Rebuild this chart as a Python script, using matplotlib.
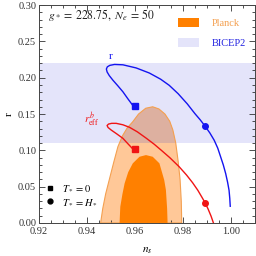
import matplotlib
matplotlib.use("Agg")
import matplotlib.pyplot as plt
from matplotlib.patches import Polygon, Rectangle, Patch
from matplotlib.lines import Line2D
from matplotlib.ticker import MultipleLocator

plt.rcParams['font.family'] = ['Liberation Serif', 'DejaVu Serif']
plt.rcParams['mathtext.fontset'] = 'stix'

# ---- data ----
bicep_r_range = [0.11, 0.22]

planck95_ns = [0.9457, 0.9466, 0.9478, 0.9495, 0.9512, 0.9529, 0.9548, 0.9568, 0.9590,
               0.9615, 0.9645, 0.9674, 0.9700, 0.9725, 0.9745, 0.9758, 0.9770, 0.9780,
               0.9788, 0.9793, 0.9795]
planck95_r = [0.0, 0.020, 0.040, 0.062, 0.084, 0.105, 0.120, 0.131, 0.139,
              0.150, 0.158, 0.160, 0.157, 0.150, 0.140, 0.128, 0.110, 0.085,
              0.060, 0.030, 0.0]

planck68_ns = [0.9536, 0.9539, 0.9548, 0.9557, 0.9572, 0.9591, 0.9619, 0.9646, 0.9674,
               0.9702, 0.9722, 0.9729, 0.9734, 0.9736]
planck68_r = [0.0, 0.0224, 0.040, 0.0546, 0.070, 0.0821, 0.0912, 0.0935, 0.0912,
              0.0821, 0.0591, 0.0454, 0.0200, 0.0]

r_ns = [0.9593, 0.9571, 0.9550, 0.9529, 0.9508, 0.9493, 0.9484, 0.9481, 0.9485, 0.9495,
        0.9515, 0.9550, 0.9605, 0.9660, 0.9707, 0.9743, 0.9780, 0.9818, 0.9850, 0.9872,
        0.9892, 0.9912, 0.9930, 0.9945, 0.9957, 0.9968, 0.9978, 0.9986, 0.9992, 0.9995,
        0.9997]
r_vals = [0.161, 0.1708, 0.1806, 0.1888, 0.1967, 0.2030, 0.2080, 0.2120, 0.2150, 0.2170,
          0.2183, 0.2178, 0.2135, 0.2065, 0.1980, 0.1895, 0.1780, 0.1640, 0.1505, 0.1420,
          0.1334, 0.1240, 0.1140, 0.1030, 0.0910, 0.0800, 0.0680, 0.0560, 0.0450, 0.0340,
          0.0230]

reff_ns = [0.9593, 0.9571, 0.9550, 0.9525, 0.9501, 0.9488, 0.9484, 0.9490, 0.9503, 0.9522,
           0.9550, 0.9577, 0.9610, 0.9646, 0.9680, 0.9712, 0.9745, 0.9784, 0.9815, 0.9840,
           0.9862, 0.9878, 0.9892, 0.9905, 0.9917, 0.9927]
reff_vals = [0.1013, 0.1090, 0.1165, 0.1225, 0.1280, 0.1315, 0.1342, 0.1362, 0.1372, 0.1372,
             0.1352, 0.1318, 0.1255, 0.1170, 0.1085, 0.0995, 0.0900, 0.0775, 0.0660, 0.0555,
             0.0450, 0.0360, 0.0280, 0.0190, 0.0095, 0.0]

marker_T0_ns = [0.96, 0.96]
marker_T0_r = [0.161, 0.1013]
marker_TH_ns = [0.9892, 0.9892]
marker_TH_r = [0.1334, 0.028]

xticks = [0.92, 0.94, 0.96, 0.98, 1.00]
yticks = [0.00, 0.05, 0.10, 0.15, 0.20, 0.25, 0.30]

# ---- colors ----
c_bicep = '#E4E4FA'
c_p95 = '#FFC898'
c_p95_edge = '#F4A050'
c_overlap = '#DDB0A0'
c_p68 = '#FF8000'
c_blue = '#1414F0'
c_red = '#F01414'

fig = plt.figure(figsize=(2.56, 2.56), dpi=100)
ax = fig.add_axes([0.152, 0.129, 0.844, 0.851])
ax.set_xlim(0.92, 1.01)
ax.set_ylim(0.0, 0.30)

band = Rectangle((0.92, bicep_r_range[0]), 0.09, bicep_r_range[1] - bicep_r_range[0],
                 facecolor=c_bicep, edgecolor='none', zorder=0)
ax.add_patch(band)

p95 = list(zip(planck95_ns, planck95_r))
ax.add_patch(Polygon(p95, closed=True, facecolor=c_p95, edgecolor='none', zorder=1))
ov = Polygon(p95, closed=True, facecolor=c_overlap, edgecolor='none', zorder=1.5)
ax.add_patch(ov)
clip = Rectangle((0.92, bicep_r_range[0]), 0.09, bicep_r_range[1] - bicep_r_range[0],
                 transform=ax.transData)
ov.set_clip_path(clip)
ax.add_patch(Polygon(p95, closed=True, facecolor='none', edgecolor=c_p95_edge,
                     linewidth=0.8, zorder=2))
ax.add_patch(Polygon(list(zip(planck68_ns, planck68_r)), closed=True, facecolor=c_p68,
                     edgecolor='none', zorder=2.5))

ax.plot(r_ns, r_vals, color=c_blue, lw=1.0, zorder=3, solid_joinstyle='round')
ax.plot(reff_ns, reff_vals, color=c_red, lw=1.0, zorder=3, solid_joinstyle='round')
ax.plot(marker_T0_ns[:1], marker_T0_r[:1], 's', color=c_blue, ms=4, zorder=4)
ax.plot(marker_T0_ns[1:], marker_T0_r[1:], 's', color=c_red, ms=4, zorder=4)
ax.plot(marker_TH_ns[:1], marker_TH_r[:1], 'o', color=c_blue, ms=4, zorder=4)
ax.plot(marker_TH_ns[1:], marker_TH_r[1:], 'o', color=c_red, ms=4, zorder=4)

ax.text(0.950, 0.2297, 'r', color=c_blue, fontsize=8, ha='center', va='center')
ax.text(0.9418, 0.1417, r'$r^b_{\rm eff}$', color=c_red, fontsize=8, ha='center', va='center')
ax.text(0.042, 0.955, r'$g_* \,=\, 228.75,\ N_e \,=\, 50$', transform=ax.transAxes,
        fontsize=8.5, ha='left', va='center', color='#222222')

ax.set_xticks(xticks)
ax.set_xticklabels(['%.2f' % v for v in xticks])
ax.set_yticks(yticks)
ax.set_yticklabels(['%.2f' % v for v in yticks])
ax.xaxis.set_minor_locator(MultipleLocator(0.005))
ax.yaxis.set_minor_locator(MultipleLocator(0.01))
ax.tick_params(which='both', direction='in', top=True, right=True, labelsize=7.5,
               colors='#333333', width=0.6)
ax.tick_params(axis='x', pad=3)
ax.tick_params(axis='y', pad=2)
ax.tick_params(which='major', length=4)
ax.tick_params(which='minor', length=2)
for s in ax.spines.values():
    s.set_linewidth(0.7)
    s.set_color('#444444')

ax.set_xlabel(r'$n_s$', fontsize=8, labelpad=7)
ax.set_ylabel('r', fontsize=8, rotation=90, labelpad=3)

h1 = [Patch(facecolor=c_p68, edgecolor='none'), Patch(facecolor=c_bicep, edgecolor='none')]
leg1 = ax.legend(h1, ['Planck', 'BICEP2'], loc='upper right', bbox_to_anchor=(1.0, 0.985),
                 frameon=False, fontsize=7.5, handlelength=2.0, handleheight=1.0,
                 handletextpad=1.2, labelspacing=0.95, labelcolor=['#F4A050', '#2020E0'])
ax.add_artist(leg1)
h2 = [Line2D([], [], marker='s', color='black', ls='none', ms=3.5),
      Line2D([], [], marker='o', color='black', ls='none', ms=3.5)]
ax.legend(h2, [r'$T_* = 0$', r'$T_* = H_*$'], loc='lower left', bbox_to_anchor=(-0.015, 0.03),
          frameon=False, fontsize=7.5, handlelength=1.0, handletextpad=0.6, labelspacing=0.4)

fig.savefig('out.png', dpi=100)
